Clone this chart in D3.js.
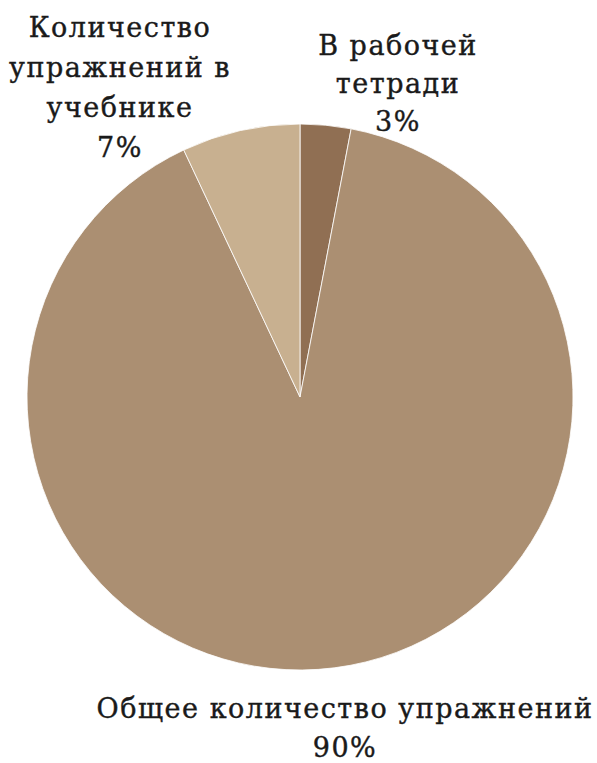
<!DOCTYPE html>
<html>
<head>
<meta charset="utf-8">
<script src="https://cdn.jsdelivr.net/npm/d3@7"></script>
<style>
  body { margin: 0; background: #fff; }
  text { font-family: "DejaVu Serif", "Liberation Serif", serif; fill: #1a1a1a; }
</style>
</head>
<body>
<div id="chart"></div>
<script>
// data, clockwise from 12 o'clock
var labels = [["В рабочей", "тетради", "3%"],
              ["Общее количество упражнений", "90%"],
              ["Количество", "упражнений в", "учебнике", "7%"]];
var values = [3, 90, 7];
var colors = ["#906f53", "#ab8f72", "#c8b090"];

var width = 597, height = 763;
var cx = 300, cy = 397, radius = 273;

var svg = d3.select("#chart").append("svg")
    .attr("width", width)
    .attr("height", height);

var pie = d3.pie().sort(null).value(function(d) { return d; });
var arc = d3.arc().innerRadius(0).outerRadius(radius);

var g = svg.append("g").attr("transform", "translate(" + cx + "," + cy + ")");

g.selectAll("path")
  .data(pie(values))
  .enter().append("path")
  .attr("d", arc)
  .attr("fill", function(d, i) { return colors[i]; })
  .attr("stroke", "#fff")
  .attr("stroke-width", 0.8);

// label anchors (center x, first baseline, line step)
var labelPos = [[398, 55, 38], [345, 718, 39], [120, 37, 40]];

labels.forEach(function(lines, i) {
  var t = svg.append("text")
    .attr("text-anchor", "middle")
    .attr("font-size", 27)
    .attr("letter-spacing", 1.5)
    .attr("stroke", "#1a1a1a")
    .attr("stroke-width", 0.4);
  lines.forEach(function(s, j) {
    t.append("tspan")
      .attr("x", labelPos[i][0])
      .attr("y", labelPos[i][1] + j * labelPos[i][2])
      .text(s);
  });
});
</script>
</body>
</html>
